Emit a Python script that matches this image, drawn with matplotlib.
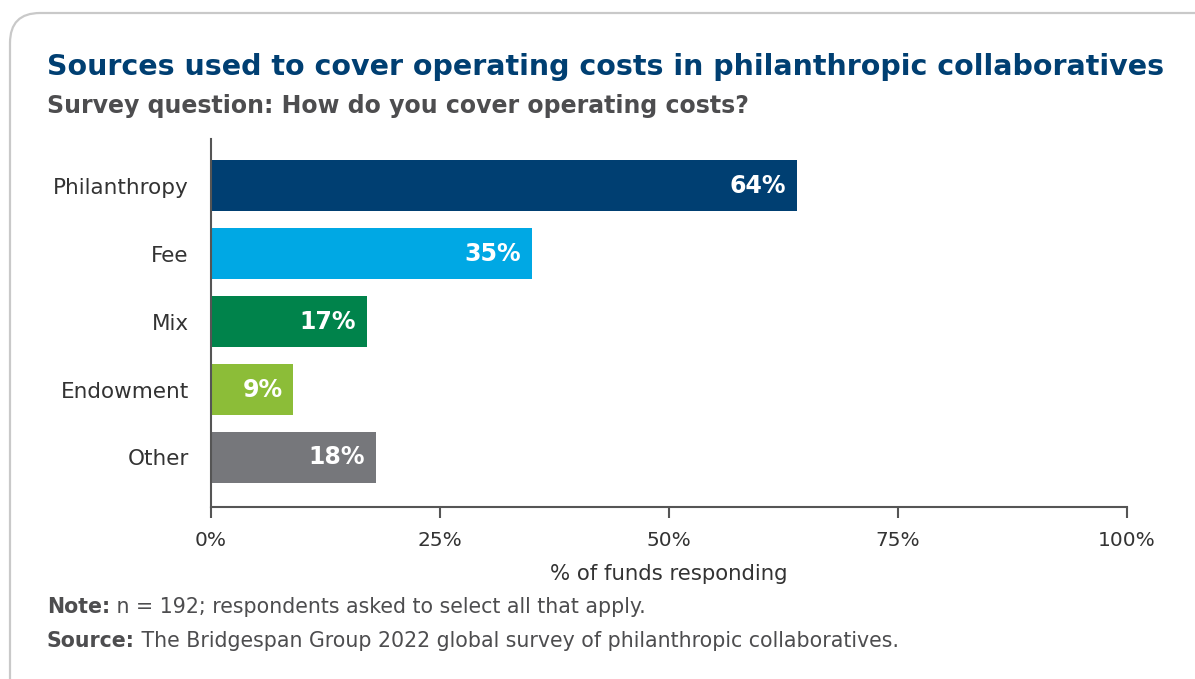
import matplotlib.pyplot as plt
from matplotlib.patches import FancyBboxPatch

# data
categories = ['Philanthropy', 'Fee', 'Mix', 'Endowment', 'Other']
values = [64, 35, 17, 9, 18]
colors = ['#003F72', '#00A8E4', '#00834B', '#8CBD38', '#76777B']
x_ticks = [0, 25, 50, 75, 100]

plt.rcParams['font.family'] = ['DejaVu Sans']
text_grey = '#4D4D4F'

fig = plt.figure(figsize=(11.95, 6.79), dpi=100)

# card border (inches, so the corner is round)
card = FancyBboxPatch((0.10, -1.0), 20, 6.66 + 1.0,
                      boxstyle='round,pad=0,rounding_size=0.3',
                      transform=fig.dpi_scale_trans, facecolor='white',
                      edgecolor='#C9C9C9', linewidth=1.6, zorder=-5)
fig.patches.append(card)

ax = fig.add_axes([211 / 1195, 172 / 679, 916 / 1195, 368 / 679])
ax.set_facecolor('none')
ax.set_zorder(2)

y = list(range(len(categories)))
bars = ax.barh(y, values, height=0.75, color=colors, zorder=2)
for b, v in zip(bars, values):
    ax.text(v - 1.2, b.get_y() + b.get_height() / 2, f'{v}%', ha='right', va='center',
            color='white', fontsize=17, fontweight='bold')

ax.set_xlim(0, 100)
ax.set_ylim(4.728, -0.684)
ax.set_yticks(y)
ax.set_yticklabels(categories, fontsize=15.5, color='#333333')
ax.set_xticks(x_ticks)
ax.set_xticklabels([f'{t}%' for t in x_ticks], fontsize=14.5, color='#333333')
ax.tick_params(axis='y', length=0, pad=16)
ax.tick_params(axis='x', length=8, width=1.5, color='#555555', pad=9, direction='out')
for s in ['top', 'right']:
    ax.spines[s].set_visible(False)
for s in ['left', 'bottom']:
    ax.spines[s].set_color('#555555')
    ax.spines[s].set_linewidth(1.5)
ax.set_xlabel('% of funds responding', fontsize=15.3, color='#333333', labelpad=10)

fig.text(47 / 1195, 1 - 67 / 679, 'Sources used to cover operating costs in philanthropic collaboratives',
         fontsize=20.5, fontweight='bold', color='#003F72', va='center')
fig.text(47 / 1195, 1 - 106 / 679, 'Survey question: How do you cover operating costs?',
         fontsize=17, fontweight='bold', color=text_grey, va='center')

notes = [('Note:', ' n = 192; respondents asked to select all that apply.', 607),
         ('Source:', ' The Bridgespan Group 2022 global survey of philanthropic collaboratives.', 641)]
for head, body, ypx in notes:
    t = fig.text(47 / 1195, 1 - ypx / 679, head, fontsize=14.8, fontweight='bold',
                 color=text_grey, va='center')
    ax.annotate(body, xy=(1, 0), xycoords=t, va='bottom', ha='left',
                fontsize=14.8, color=text_grey, annotation_clip=False)

fig.savefig('out.png', dpi=100)
